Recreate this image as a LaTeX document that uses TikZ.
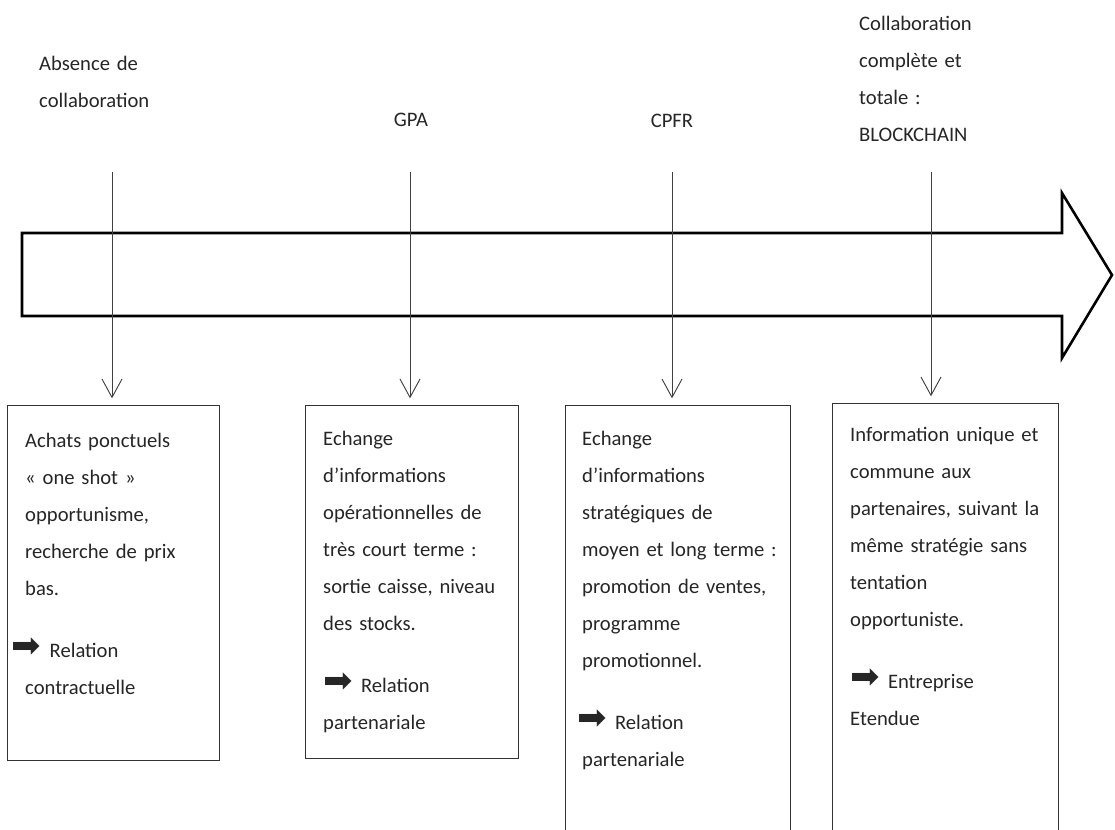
\documentclass[tikz,border=0pt]{standalone}
\usepackage{fontspec}
\setmainfont{Carlito}
\newfontfamily\symfont{DejaVu Sans}
\usetikzlibrary{arrows.meta,calc}
\newcommand{\rarr}{{\symfont\fontsize{30}{31.6}\selectfont ➡}\hspace{2.5mm}}
\tikzset{
  basetext/.style = {inner sep=0pt, font=\fontsize{17.6}{31.6}\selectfont, text=black!85},
  stage/.style = {basetext, text width=5cm, align=left, anchor=base west},
  box_frame/.style = {draw=black!80, line width=1.1pt, inner sep=0pt, anchor=north west},
  box_text/.style = {basetext, text width=6.4cm, align=left, anchor=base west},
  link/.style = {draw=black!75, line width=0.8pt, shorten >=2mm, -{Straight Barb[length=5.5mm,width=6mm]}},
  big_arrow/.style = {draw=black, line width=2.2pt, line join=miter}
}

\begin{document}
\begin{tikzpicture}[x=0.03cm, y=-0.03cm]
\useasboundingbox (0,0) rectangle (1115,829);

\draw[big_arrow] (22,233) -- (1062,233) -- (1062,193) -- (1112,275)
  -- (1062,358) -- (1062,316) -- (22,316) -- cycle;

\node[stage] (absent) at (39,70) {Absence de\\collaboration};
\node[basetext, anchor=base] (gpa) at (411,126) {GPA};
\node[basetext, anchor=base] (cpfr) at (672,127) {CPFR};
\node[stage] (chain) at (859,30) {Collaboration\\complète et\\totale :\\BLOCKCHAIN};

\coordinate (top1) at (112,172);
\coordinate (top2) at (410,172);
\coordinate (top3) at (672,172);
\coordinate (top4) at (931,172);

\node[box_frame, minimum width=6.36cm, minimum height=10.65cm] (b1) at (7,405) {};
\node[box_frame, minimum width=6.39cm, minimum height=10.59cm] (b2) at (305,405) {};
\node[box_frame, minimum width=6.75cm, minimum height=13.05cm] (b3) at (565,405) {};
\node[box_frame, minimum width=6.78cm, minimum height=13.11cm] (b4) at (832,403) {};

\draw[link] (top1) -- (top1 |- b1.north);
\draw[link] (top2) -- (top2 |- b2.north);
\draw[link] (top3) -- (top3 |- b3.north);
\draw[link] (top4) -- (top4 |- b4.north);

\node[box_text] (txt1) at (25,447) {Achats ponctuels\\« one shot »\\opportunisme,\\recherche de prix\\bas.\\[7.5mm]
  \hspace*{-4mm}\rarr Relation\\contractuelle};
\node[box_text] (txt2) at (323,445) {Echange\\d’informations\\opérationnelles de\\très court terme :\\sortie caisse, niveau\\des stocks.\\[7.5mm]
  \rarr Relation\\partenariale};
\node[box_text] (txt3) at (582,445) {Echange\\d’informations\\stratégiques de\\moyen et long terme :\\promotion de ventes,\\programme\\promotionnel.\\[7.5mm]
  \hspace*{-1.5mm}\rarr Relation\\partenariale};
\node[box_text] (txt4) at (850,441) {Information unique et\\commune aux\\partenaires, suivant la\\même stratégie sans\\tentation\\opportuniste.\\[7.5mm]
  \rarr Entreprise\\Etendue};
\end{tikzpicture}
\end{document}
